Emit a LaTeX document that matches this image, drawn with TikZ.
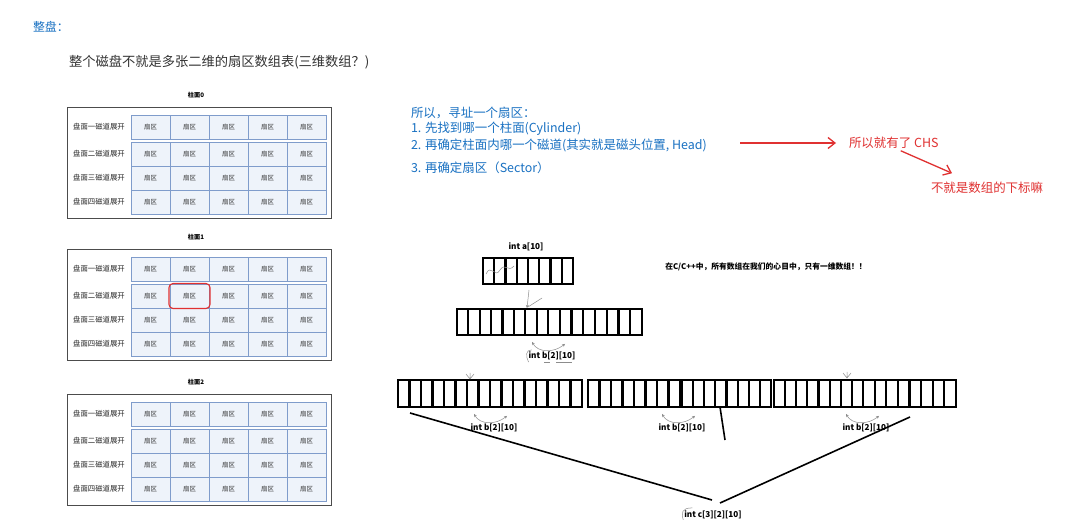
\documentclass[tikz,border=0pt]{standalone}
\usepackage{fontspec}
\setmainfont{Noto Sans CJK SC}
\usetikzlibrary{arrows.meta,calc}
\definecolor{exblue}{HTML}{1971C2}
\definecolor{exred}{HTML}{E03131}
\definecolor{cellfill}{HTML}{EEF3FA}
\definecolor{cellline}{HTML}{7F9CCB}
\definecolor{txtgray}{HTML}{333333}
\newcommand\arrcells[1]{\foreach \i in {1,...,7}{\draw[sepline] ($(#1.north west)!\i/8!(#1.north east)$) -- ($(#1.south west)!\i/8!(#1.south east)$);}}
\newcommand\twoarc[1]{\draw[gline,{Stealth[length=3bp,width=3bp]}-{Stealth[length=3bp,width=3bp]}] ($(#1.north)+(-20,-10)$) .. controls ($(#1.north)+(-14,1)$) and ($(#1.north)+(2,1)$) .. ($(#1.north)+(13,-8)$);}
\begin{document}
\begin{tikzpicture}[x=1bp,y=-1bp,
  every node/.style={inner sep=0pt, outer sep=0pt},
  cell/.style={draw=cellline, fill=cellfill, line width=0.6bp, minimum width=39bp, minimum height=24bp, anchor=north west, font=\fontsize{6.5}{7}\selectfont, text=txtgray},
  rowlab/.style={font=\fontsize{7.4}{8}\selectfont, text=black!85},
  cyllab/.style={font=\bfseries\fontsize{6.2}{7}\selectfont},
  tabbox/.style={draw=black!70, line width=0.8bp, minimum width=264bp, minimum height=111bp, anchor=north west},
  hibox/.style={draw=exred, line width=1.1bp, rounded corners=4bp, minimum width=41bp, minimum height=25bp},
  bluetxt/.style={anchor=west, text=exblue, font=\fontsize{12.5}{14}\selectfont},
  redtxt/.style={anchor=west, text=exred, font=\fontsize{12.5}{14}\selectfont},
  redarrow/.style={draw=exred, line width=1.3bp, -{Straight Barb[length=7bp,width=11bp]}},
  arr/.style={draw=black, line width=2.8bp, minimum height=26bp, inner sep=0pt},
  sepline/.style={draw=black, line width=2.2bp},
  code/.style={font=\bfseries\fontsize{8.2}{10}\selectfont},
  note/.style={font=\bfseries\fontsize{7.8}{9}\selectfont},
  garrow/.style={draw=black!45, line width=0.5bp, -{Stealth[length=3bp,width=3bp]}},
  gline/.style={draw=black!45, line width=0.5bp},
  bigline/.style={draw=black, line width=1.6bp}
]
\useasboundingbox[fill=white] (0,0) rectangle (1080,520);

% titles
\node[anchor=west, text=exblue, font=\fontsize{12}{14}\selectfont] (title) at (33,27) {整盘：};
\node[anchor=west, text=txtgray, font=\fontsize{13.3}{15}\selectfont] (sub) at (69,62) {整个磁盘不就是多张二维的扇区数组表(三维数组？)};

% tables
\foreach \k/\ty in {0/107,1/249,2/394}{
  \node[cyllab] (cyl\k) at (196,{\ty-12}) {柱面\k};
  \node[tabbox] (tab\k) at (67,\ty) {};
  \foreach \r/\off/\lab in {0/8/一,1/35/二,2/59/三,3/83/四}{
    \node[rowlab] (rl\k\r) at (99,{\ty+\off+12}) {盘面\lab 磁道展开};
    \foreach \c in {0,...,4}{
      \node[cell] (c\k\r\c) at ({131+39*\c},{\ty+\off}) {扇区};
    }
  }
}
\node[hibox] (hl) at (c111.center) {};

% blue explanation
\node[bluetxt] (q0) at (411,113) {所以，寻址一个扇区：};
\node[bluetxt] (q1) at (411,129) {1. 先找到哪一个柱面(Cylinder)};
\node[bluetxt] (q2) at (411,145) {2. 再确定柱面内哪一个磁道(其实就是磁头位置, Head)};
\node[bluetxt] (q3) at (411,168) {3. 再确定扇区（Sector）};

% red notes
\coordinate (r0) at (740,143);
\node[redtxt] (chs) at (849,143) {所以就有了 CHS};
\draw[redarrow] (r0) -- ($(chs.west)+(-13,0)$);
\node[redtxt] (idx) at (931,188) {不就是数组的下标嘛};
\draw[redarrow] ($(chs.south)+(7,2)$) -- ($(idx.north)+(-35,-9)$);

% note
\node[note] (nt) at (766,267) {在C/C++中，所有数组在我们的心目中，只有一维数组！！};

% arrays
\node[code] (la) at (526,247) {int a[10]};
\node[arr, minimum width=90bp] (a) at (528,271) {};
\arrcells{a}
\draw[gline] (486,274) .. controls (491,263) and (495,279) .. (500,270) .. controls (505,262) and (508,273) .. (514,266);

\node[arr, minimum width=91bp] (b1) at (502.5,322) {};
\node[arr, minimum width=94bp] (b2) at (595,322) {};
\arrcells{b1}\arrcells{b2}
\coordinate (g1) at (529,290);
\draw[garrow] (g1) -- ($(b1.north east)+(-21,-1)$);
\draw[gline] (542,298) -- ($(b1.north east)+(-20,-2)$);
\node[code] (lb) at (552,356) {int b[2][10]};
\twoarc{lb}
\draw[gline] ($(lb.north west)+(3,-2)$) .. controls ($(lb.north west)+(-3,-2)$) and ($(lb.west)+(-3,0)$) .. ($(lb.south west)+(0,2)$);
\draw[gline] ($(lb.south)+(-8,2)$) -- ($(lb.south)+(-2,2)$) ($(lb.south)+(4,2)$) -- ($(lb.south)+(20,2)$);

\node[arr, minimum width=92bp, minimum height=27bp] (d1) at (444,393.5) {};
\node[arr, minimum width=92bp, minimum height=27bp] (d2) at (536,393.5) {};
\node[arr, minimum width=92bp, minimum height=27bp] (d3) at (634,393.5) {};
\node[arr, minimum width=89bp, minimum height=27bp] (d4) at (726.5,393.5) {};
\node[arr, minimum width=89bp, minimum height=27bp] (d5) at (818.5,393.5) {};
\node[arr, minimum width=93bp, minimum height=27bp] (d6) at (909.5,393.5) {};
\foreach \n in {d1,d2,d3,d4,d5,d6}{\arrcells{\n}}
\draw[gline] (466,374) -- (470,379) -- (474,374) (470,373) -- (470,379);
\draw[gline] (843,373) -- (847,378) -- (851,373) (847,372) -- (847,378);

\node[code] (lb1) at (494,428) {int b[2][10]};
\node[code] (lb2) at (682,428) {int b[2][10]};
\node[code] (lb3) at (866,428) {int b[2][10]};
\twoarc{lb1}\twoarc{lb2}\twoarc{lb3}

\node[code] (lc) at (713,515) {int c[3][2][10]};
\draw[gline] ($(lc.north west)+(8,-3)$) .. controls ($(lc.north west)+(-3,-3)$) and ($(lc.west)+(-3,-2)$) .. ($(lc.south west)+(-1,1)$);

\coordinate (p1) at (410,413);
\coordinate (m1) at (712,500);
\coordinate (m2) at (720,503);
\coordinate (p3) at (910,417);
\coordinate (p2) at (720,407);
\coordinate (p2e) at (725,440);
\draw[bigline] (p1) -- (m1);
\draw[bigline] (m2) -- (p3);
\draw[bigline] (p2) -- (p2e);
\end{tikzpicture}
\end{document}
